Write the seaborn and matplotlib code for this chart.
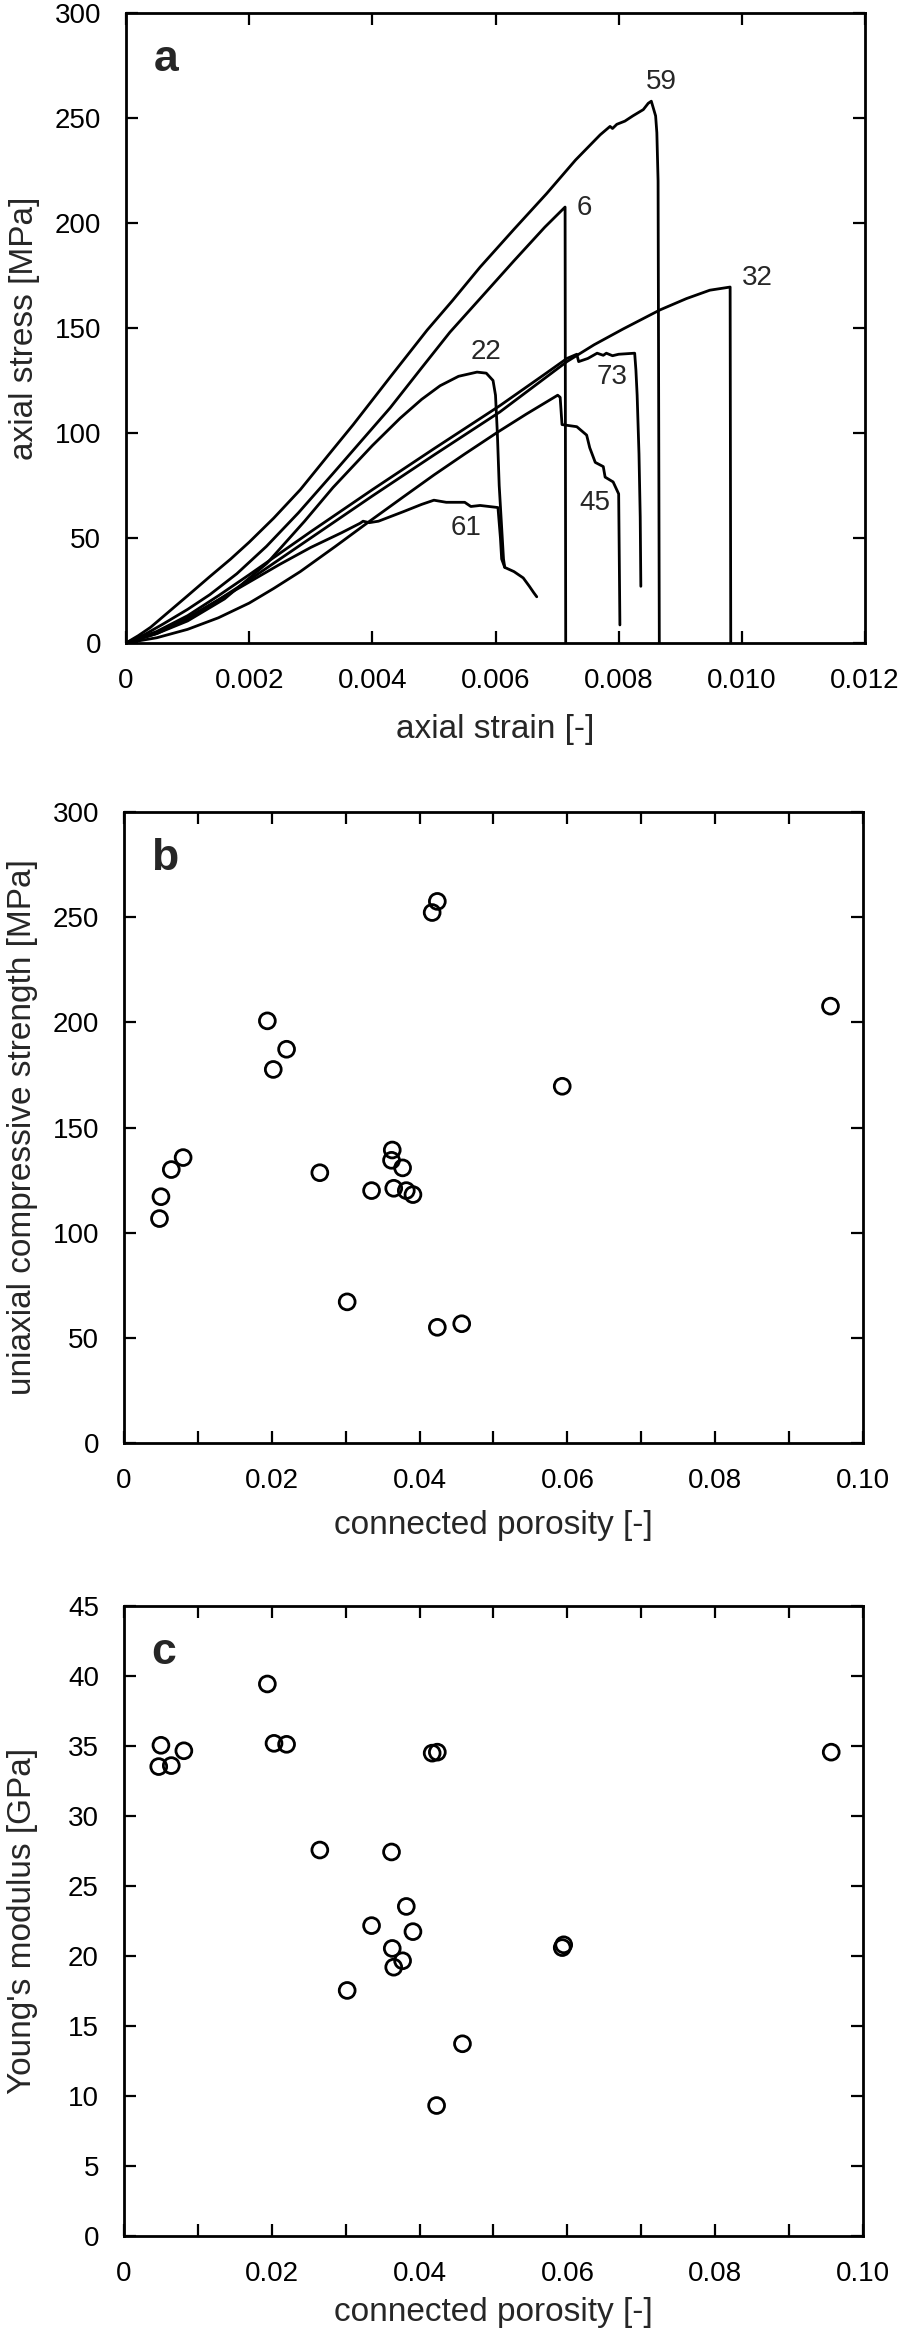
import numpy as np
import pandas as pd
import seaborn as sns
import matplotlib
matplotlib.use("Agg")
import matplotlib.pyplot as plt
from matplotlib.ticker import MultipleLocator, FixedLocator

# ---- panel a: stress-strain curves (strain in 1e-3, stress in MPa) ----
strain_59 = [0, 0.2, 0.4, 0.66, 1.0, 1.36, 1.7, 2.0, 2.4, 2.83, 3.3, 3.69, 4.3, 4.89, 5.3, 5.75, 6.3,
             6.83, 7.3, 7.7, 7.86, 7.9, 7.97, 8.1, 8.23, 8.4, 8.48, 8.53, 8.56, 8.6, 8.62, 8.64, 8.66]
stress_59 = [0, 3.5, 7.5, 14, 22.5, 31.6, 40, 48, 59.5, 73, 90, 104, 127, 149, 163, 179, 197,
             214, 230, 242, 246, 245, 247, 248.5, 251, 254, 257, 258, 255, 251, 243, 220, 0]

strain_6 = [0, 0.3, 0.6, 1.0, 1.36, 1.8, 2.28, 2.8, 3.37, 3.8, 4.29, 4.8, 5.26, 5.75, 6.3, 6.8, 7.13, 7.14]
stress_6 = [0, 4, 9, 16, 23, 33, 46, 62, 81, 95.5, 112, 131, 148, 164, 182, 198, 207.6, 0]

strain_22 = [0, 0.5, 1.0, 1.6, 2.29, 2.9, 3.36, 4.0, 4.45, 4.8, 5.1, 5.4, 5.7, 5.85, 5.96, 6.0,
             6.03, 6.06, 6.1, 6.13, 6.15]
stress_22 = [0, 4.5, 10.5, 21, 38, 58, 74, 94, 107, 116, 122.5, 127, 129, 128.5, 125, 118,
             100, 75, 55, 40, 36]

strain_73 = [0, 0.5, 1.0, 1.5, 2.0, 3.0, 4.0, 5.0, 6.07, 6.8, 7.16, 7.32, 7.35, 7.5, 7.65, 7.75,
             7.8, 7.9, 8.0, 8.26, 8.28, 8.3, 8.33, 8.35, 8.36]
stress_73 = [0, 5.5, 13, 22.5, 32.5, 53, 73, 92.5, 113, 128, 135.5, 137.5, 134, 135.5, 138, 137,
             138, 136.8, 137.5, 138, 130, 118, 90, 60, 27]

strain_32 = [0, 0.5, 1.0, 1.5, 2.0, 3.0, 4.0, 5.0, 6.07, 7.16, 7.6, 8.07, 8.67, 9.1, 9.48, 9.81, 9.82]
stress_32 = [0, 4.5, 11.5, 20.5, 30, 50, 70, 89.5, 110, 134, 142, 149.5, 158.6, 164, 168, 169.5, 0]

strain_45 = [0, 0.5, 1.0, 1.5, 2.0, 2.4, 2.83, 3.4, 3.91, 4.5, 5.0, 5.5, 6.04, 6.5, 7.01, 7.05,
             7.08, 7.32, 7.48, 7.53, 7.62, 7.75, 7.78, 7.91, 8.0, 8.01, 8.02]
stress_45 = [0, 2.5, 6.5, 12, 19, 26, 34, 46, 57, 69.5, 80, 90, 100.5, 109, 118, 117,
             104, 103, 99, 93, 86, 84, 79, 76.7, 71, 40, 8.6]

strain_61 = [0, 0.5, 1.0, 1.5, 2.0, 2.5, 3.0, 3.5, 3.8, 3.85, 3.95, 4.1, 4.5, 4.8, 5.0, 5.2, 5.5,
             5.6, 5.75, 6.04, 6.08, 6.1, 6.15, 6.3, 6.45, 6.55, 6.62, 6.67]
stress_61 = [0, 5, 12, 20.5, 29, 37.5, 45.5, 52.5, 57, 58, 57.3, 58, 62.5, 66, 68, 67, 67,
             65, 65.5, 64.5, 50, 40, 36, 34, 31, 27, 24, 22]

curve_ids = ["59", "6", "22", "73", "32", "45", "61"]
label_strain = [8.7, 7.45, 5.85, 7.9, 10.25, 7.61, 5.52]
label_stress = [267, 207, 138.6, 126.7, 174, 66.7, 54.8]

# ---- panels b, c: porosity data ----
por_b = [0.0048, 0.0050, 0.0064, 0.0080, 0.0194, 0.0202, 0.0220, 0.0265, 0.0302, 0.0335,
         0.0363, 0.0362, 0.0365, 0.0377, 0.0382, 0.0391, 0.0417, 0.0424, 0.0424, 0.0457,
         0.0593, 0.0956]
ucs_b = [106.7, 117.1, 130, 135.7, 200.7, 177.6, 187.2, 128.5, 67.1, 120,
         139.3, 134.4, 121.1, 130.8, 120, 118.1, 252.2, 257.5, 55, 56.7,
         169.6, 207.7]

por_c = [0.0050, 0.0047, 0.0064, 0.0081, 0.0194, 0.0203, 0.0220, 0.0265, 0.0302, 0.0335,
         0.0362, 0.0363, 0.0365, 0.0377, 0.0382, 0.0391, 0.0417, 0.0424, 0.0423, 0.0458,
         0.0593, 0.0595, 0.0957]
young_c = [35.05, 33.53, 33.6, 34.66, 39.43, 35.19, 35.12, 27.57, 17.54, 22.17,
           27.43, 20.54, 19.2, 19.66, 23.54, 21.74, 34.49, 34.56, 9.32, 13.73,
           20.6, 20.8, 34.56]

strains = [strain_59, strain_6, strain_22, strain_73, strain_32, strain_45, strain_61]
stresses = [stress_59, stress_6, stress_22, stress_73, stress_32, stress_45, stress_61]
rows = []
for cid, sx, sy in zip(curve_ids, strains, stresses):
    for i, (x, y) in enumerate(zip(sx, sy)):
        rows.append((cid, i, x / 1000.0, y))
df_a = pd.DataFrame(rows, columns=["sample", "order", "strain", "stress"])

sns.set_theme(style="ticks")
plt.rcParams['font.family'] = ['Liberation Sans', 'DejaVu Sans']

fig = plt.figure(figsize=(8.98, 23.37), dpi=100)
W, H = 898.0, 2337.0
ax_a = fig.add_axes([126 / W, 1 - 643 / H, 739 / W, 630 / H])
ax_b = fig.add_axes([124 / W, 1 - 1443 / H, 739 / W, 631 / H])
ax_c = fig.add_axes([124 / W, 1 - 2236 / H, 739 / W, 630 / H])

sns.lineplot(data=df_a, x="strain", y="stress", units="sample", estimator=None,
             sort=False, color="black", linewidth=2.0, ax=ax_a)
for cid, lx, ly in zip(curve_ids, label_strain, label_stress):
    ax_a.text(lx / 1000.0, ly, cid, fontsize=20, ha="center", va="center")

sns.scatterplot(x=por_b, y=ucs_b, ax=ax_b, marker="o", s=130,
                facecolor="none", edgecolor="black", linewidth=2.0)
sns.scatterplot(x=por_c, y=young_c, ax=ax_c, marker="o", s=130,
                facecolor="none", edgecolor="black", linewidth=2.0)

ax_a.set_xlim(0, 0.012)
ax_a.set_ylim(0, 300)
ax_a.xaxis.set_major_locator(FixedLocator([0, 0.002, 0.004, 0.006, 0.008, 0.010, 0.012]))
ax_a.set_xticklabels(["0", "0.002", "0.004", "0.006", "0.008", "0.010", "0.012"])
ax_a.yaxis.set_major_locator(MultipleLocator(50))
ax_a.set_xlabel("axial strain [-]")
ax_a.set_ylabel("axial stress [MPa]")

for ax in (ax_b, ax_c):
    ax.set_xlim(0, 0.1)
    ax.xaxis.set_major_locator(FixedLocator([0, 0.02, 0.04, 0.06, 0.08, 0.10]))
    ax.set_xticklabels(["0", "0.02", "0.04", "0.06", "0.08", "0.10"])
    ax.xaxis.set_minor_locator(MultipleLocator(0.01))
    ax.set_xlabel("connected porosity [-]")

ax_b.set_ylim(0, 300)
ax_b.yaxis.set_major_locator(MultipleLocator(50))
ax_b.set_ylabel("uniaxial compressive strength [MPa]")
ax_c.set_ylim(0, 45)
ax_c.yaxis.set_major_locator(MultipleLocator(5))
ax_c.set_ylabel("Young's modulus [GPa]")

xlab_y = {ax_a: -0.138, ax_b: -0.130, ax_c: -0.122}
for ax, letter in zip((ax_a, ax_b, ax_c), "abc"):
    for sp in ax.spines.values():
        sp.set_visible(True)
        sp.set_linewidth(2.0)
        sp.set_color("black")
    ax.tick_params(which="both", direction="in", top=True, right=True,
                   length=8.5, width=1.6, labelsize=20, pad=18, colors="black")
    ax.xaxis.label.set_size(24)
    ax.yaxis.label.set_size(24)
    ax.xaxis.set_label_coords(0.5, xlab_y[ax])
    ax.xaxis.label.set_va("center")
    ax.yaxis.set_label_coords(-0.137, 0.5)
    ax.yaxis.label.set_va("center")
    ax.text(0.037, 0.908, letter, transform=ax.transAxes, fontsize=32,
            fontweight="bold", ha="left", va="baseline")
    if ax.get_legend() is not None:
        ax.get_legend().remove()

fig.savefig("out.png", dpi=100)
